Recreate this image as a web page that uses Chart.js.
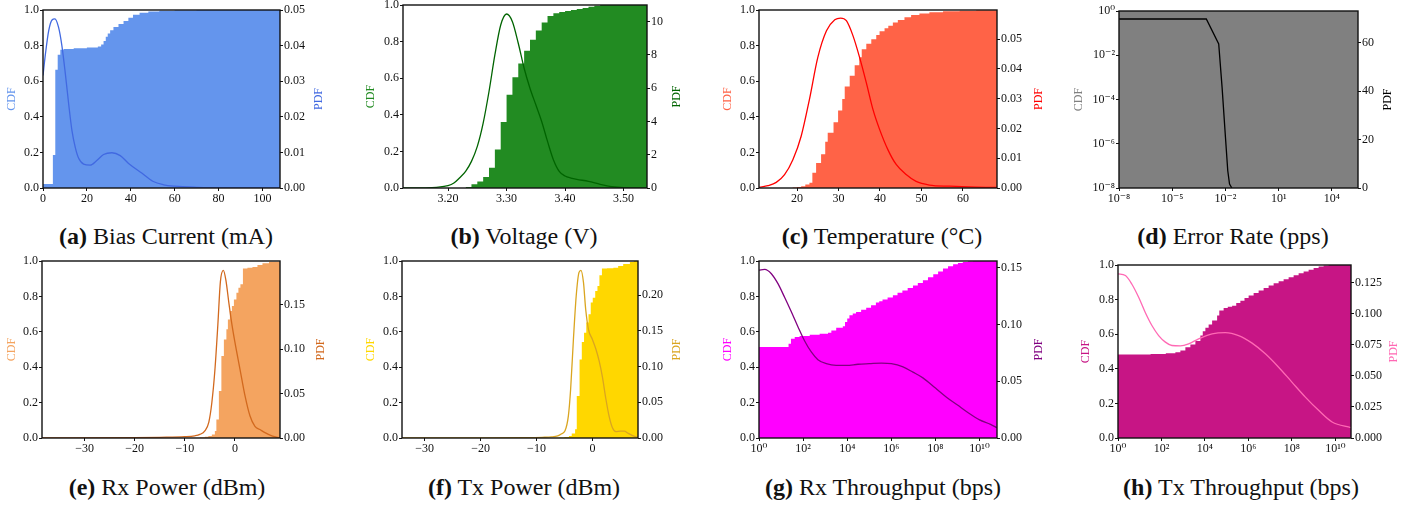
<!DOCTYPE html>
<html>
<head>
<meta charset="utf-8">
<script src="https://cdn.jsdelivr.net/npm/chart.js@4.4.0/dist/chart.umd.min.js"></script>
<style>
  html, body { margin: 0; padding: 0; background: #fff; }
  body { position: relative; width: 1422px; height: 508px; overflow: hidden; }
  canvas { position: absolute; }
  .cap {
    position: absolute; font-family: "Liberation Serif", "DejaVu Serif", serif;
    font-size: 24px; line-height: 1; color: #111; white-space: nowrap;
    transform: translate(-50%, -50%);
  }
</style>
</head>
<body>
<script>
// ---- shared tick labels ----
const cdfTicks = [0, 0.2, 0.4, 0.6, 0.8, 1.0]
const cdfLabels = ['0.0', '0.2', '0.4', '0.6', '0.8', '1.0']
const logCdfTicks = [1e-8, 1e-6, 1e-4, 1e-2, 1]
const logCdfLabels = ['10⁻⁸', '10⁻⁶', '10⁻⁴', '10⁻²', '10⁰']
const thrXTicks = [1, 1e2, 1e4, 1e6, 1e8, 1e10]
const thrXLabels = ['10⁰', '10²', '10⁴', '10⁶', '10⁸', '10¹⁰']
const powXTicks = [-30, -20, -10, 0]
const powXLabels = ['−30', '−20', '−10', '0']

// ---- (a) bias current ----
const biasCdfEdges = [0, 4.5, 5.6, 6.7, 7.9, 9.4, 14, 20, 25, 26.5, 27.6, 28.6, 29.5, 30.6, 32.1, 34.4, 36.7, 38.9, 41, 44, 48, 53, 60, 70, 108]
const biasCdf = [0.022, 0.185, 0.665, 0.749, 0.777, 0.781, 0.785, 0.789, 0.795, 0.806, 0.826, 0.85, 0.868, 0.886, 0.905, 0.922, 0.938, 0.956, 0.973, 0.985, 0.992, 0.996, 0.999, 1.0]
const biasPdfX = [0, 1.1, 2.6, 4.1, 5.4, 7.1, 8.6, 10.2, 11.7, 13.2, 14.7, 16.2, 18.5, 21.5, 24.5, 27.6, 31.4, 35.2, 39, 45, 50, 55, 60, 70, 80, 108]
const biasPdf = [0.0316, 0.0376, 0.0442, 0.0472, 0.0475, 0.0451, 0.0400, 0.0320, 0.0236, 0.0161, 0.0114, 0.0084, 0.0067, 0.0064, 0.0077, 0.0094, 0.0099, 0.0091, 0.0069, 0.0042, 0.0019, 0.0009, 0.0005, 0.0002, 0.0001, 0]
const biasXTicks = [0, 20, 40, 60, 80, 100]
const biasXLabels = ['0', '20', '40', '60', '80', '100']
const biasPdfTicks = [0, 0.01, 0.02, 0.03, 0.04, 0.05]
const biasPdfLabels = ['0.00', '0.01', '0.02', '0.03', '0.04', '0.05']

// ---- (b) voltage ----
const voltCdfEdges = [3.23, 3.24, 3.25, 3.26, 3.27, 3.28, 3.29, 3.30, 3.31, 3.32, 3.33, 3.34, 3.35, 3.36, 3.37, 3.38, 3.39, 3.40, 3.41, 3.42, 3.43, 3.44, 3.45, 3.46, 3.54]
const voltCdf = [0.006, 0.02, 0.035, 0.06, 0.11, 0.21, 0.36, 0.51, 0.605, 0.68, 0.75, 0.81, 0.86, 0.905, 0.94, 0.955, 0.962, 0.967, 0.972, 0.978, 0.983, 0.99, 0.996, 1.0]
const voltPdfX = [3.123, 3.16, 3.18, 3.20, 3.21, 3.22, 3.23, 3.24, 3.25, 3.26, 3.27, 3.28, 3.29, 3.30, 3.31, 3.32, 3.33, 3.34, 3.35, 3.36, 3.37, 3.38, 3.39, 3.40, 3.41, 3.42, 3.44, 3.46, 3.48, 3.50, 3.54]
const voltPdf = [0, 0.01, 0.04, 0.14, 0.3, 0.62, 1.0, 1.6, 2.5, 3.9, 5.8, 8.0, 9.8, 10.46, 10.0, 8.7, 7.2, 6.0, 5.0, 4.0, 2.8, 1.7, 1.0, 0.72, 0.6, 0.52, 0.40, 0.22, 0.08, 0.02, 0]
const voltXTicks = [3.2, 3.3, 3.4, 3.5]
const voltXLabels = ['3.20', '3.30', '3.40', '3.50']
const voltPdfTicks = [0, 2, 4, 6, 8, 10]
const voltPdfLabels = ['0', '2', '4', '6', '8', '10']

// ---- (c) temperature ----
const tempCdfEdges = [18.9, 20.0, 21.0, 22.0, 23.0, 23.7, 24.6, 25.8, 26.8, 27.4, 28.8, 29.9, 30.9, 31.5, 32.7, 33.9, 35.0, 35.6, 36.7, 37.9, 39.1, 39.9, 41.1, 42.0, 43.1, 44.3, 45.9, 47.5, 49.5, 51.9, 55.2, 59.2, 63.2, 68.2]
const tempCdf = [0.003, 0.006, 0.01, 0.02, 0.03, 0.085, 0.14, 0.19, 0.26, 0.31, 0.37, 0.435, 0.50, 0.57, 0.63, 0.69, 0.735, 0.78, 0.81, 0.835, 0.86, 0.88, 0.897, 0.912, 0.93, 0.944, 0.959, 0.972, 0.981, 0.987, 0.993, 0.996, 0.998]
const tempPdfX = [10.84, 13, 15, 17, 19, 21, 23, 25, 27.1, 29.1, 30.5, 31.9, 33.5, 35.1, 36.7, 38.3, 39.9, 41.9, 43.9, 46.3, 48.7, 51.9, 56.8, 63.2, 68.2]
const tempPdf = [0.0002, 0.0008, 0.0019, 0.0045, 0.0095, 0.0174, 0.0298, 0.0438, 0.0528, 0.0565, 0.0571, 0.0562, 0.0511, 0.0438, 0.0354, 0.0264, 0.0197, 0.0129, 0.0079, 0.0045, 0.0022, 0.0010, 0.0006, 0.0003, 0.0002]
const tempXTicks = [20, 30, 40, 50, 60]
const tempXLabels = ['20', '30', '40', '50', '60']
const tempPdfTicks = [0, 0.01, 0.02, 0.03, 0.04, 0.05]
const tempPdfLabels = ['0.00', '0.01', '0.02', '0.03', '0.04', '0.05']

// ---- (d) error rate (x as log10 exponents) ----
const errCdfExp = [-8, 5.47]
const errCdf = [1.0]
const errPdfExp = [-8, -3.08, -2.38, -2.19, -2.0, -1.87, -1.77, -1.64]
const errPdf = [69.7, 69.7, 59.4, 41.5, 20.9, 7.1, 1.6, 0]
const errXTicks = [1e-8, 1e-5, 1e-2, 1e1, 1e4]
const errXLabels = ['10⁻⁸', '10⁻⁵', '10⁻²', '10¹', '10⁴']
const errPdfTicks = [0, 20, 40, 60]
const errPdfLabels = ['0', '20', '40', '60']

// ---- (e) rx power ----
const rxpCdfEdges = [-10, -8, -7, -6, -5.3, -4.6, -4.0, -3.7, -3.2, -2.7, -2.2, -1.7, -1.4, -1.0, -0.6, -0.2, 0.3, 0.7, 1.1, 1.6, 2.5, 3.5, 4.5, 5.5, 6.8, 9.0]
const rxpCdf = [0.001, 0.002, 0.004, 0.007, 0.012, 0.02, 0.04, 0.105, 0.265, 0.463, 0.557, 0.614, 0.67, 0.717, 0.746, 0.783, 0.821, 0.849, 0.868, 0.957, 0.962, 0.966, 0.977, 0.987, 0.996]
const rxpPdfX = [-38.5, -20, -15, -10, -8, -7, -6, -5.2, -4.6, -4.0, -3.4, -2.9, -2.3, -1.8, -1.2, -0.6, 0, 1, 2, 3, 4, 5, 6, 7.5, 9]
const rxpPdf = [0, 0.0004, 0.0008, 0.0015, 0.0025, 0.004, 0.008, 0.018, 0.040, 0.076, 0.128, 0.176, 0.189, 0.178, 0.152, 0.128, 0.108, 0.078, 0.048, 0.025, 0.013, 0.0095, 0.006, 0.002, 0]
const rxpPdfTicks = [0, 0.05, 0.10, 0.15]
const rxpPdfLabels = ['0.00', '0.05', '0.10', '0.15']

// ---- (f) tx power ----
const txpCdfEdges = [-7, -6, -5, -4.2, -3.7, -3.1, -2.8, -2.3, -1.9, -1.5, -1.1, -0.7, -0.3, 0.06, 0.5, 0.9, 1.25, 1.7, 2.6, 3.75, 4.6, 5.5, 6.7, 7.4, 8.15]
const txpCdf = [0.001, 0.003, 0.006, 0.012, 0.025, 0.05, 0.237, 0.444, 0.542, 0.595, 0.652, 0.699, 0.765, 0.793, 0.831, 0.859, 0.919, 0.957, 0.959, 0.962, 0.972, 0.983, 0.994, 1.0]
const txpPdfX = [-34.05, -20, -12, -9, -7.3, -6.2, -5.5, -4.9, -4.3, -3.9, -3.4, -2.9, -2.4, -2.05, -1.6, -1.2, -0.7, 0, 0.6, 1.2, 1.8, 2.4, 3.0, 3.6, 4.2, 5.0, 5.7, 6.4, 7.3, 8.15]
const txpPdf = [0, 0.0002, 0.0006, 0.001, 0.0015, 0.003, 0.006, 0.010, 0.031, 0.068, 0.138, 0.199, 0.232, 0.235, 0.218, 0.180, 0.152, 0.138, 0.125, 0.108, 0.085, 0.055, 0.03, 0.014, 0.009, 0.0095, 0.0095, 0.0065, 0.003, 0.001]
const txpPdfTicks = [0, 0.05, 0.10, 0.15, 0.20]
const txpPdfLabels = ['0.00', '0.05', '0.10', '0.15', '0.20']

// ---- (g) rx throughput (x as log10 exponents) ----
const rxtCdfExp = [0, 1.34, 1.45, 1.62, 1.84, 2.3, 2.75, 3.13, 3.28, 3.5, 3.8, 3.9, 4.0, 4.1, 4.25, 4.4, 4.63, 4.86, 5.08, 5.3, 5.45, 5.6, 5.83, 6.07, 6.28, 6.5, 6.74, 6.98, 7.2, 7.43, 7.66, 7.9, 8.12, 8.34, 8.57, 8.8, 9.02, 9.24, 9.47, 9.7, 10.79]
const rxtCdf = [0.514, 0.533, 0.561, 0.571, 0.576, 0.584, 0.589, 0.595, 0.608, 0.623, 0.631, 0.655, 0.675, 0.693, 0.703, 0.712, 0.724, 0.736, 0.75, 0.765, 0.773, 0.782, 0.794, 0.806, 0.82, 0.834, 0.847, 0.861, 0.876, 0.891, 0.908, 0.925, 0.941, 0.957, 0.97, 0.981, 0.988, 0.994, 0.998, 1.0]
const rxtPdfExp = [0, 0.26, 0.56, 0.86, 1.16, 1.47, 1.77, 2.07, 2.37, 2.67, 3.05, 3.5, 3.96, 4.49, 5.0, 5.55, 6.0, 6.53, 6.98, 7.43, 8.0, 8.5, 9.0, 9.5, 10.0, 10.5, 10.79]
const rxtPdf = [0.148, 0.1486, 0.1448, 0.136, 0.124, 0.111, 0.0978, 0.0855, 0.0758, 0.069, 0.0655, 0.064, 0.064, 0.065, 0.0655, 0.066, 0.0655, 0.0626, 0.058, 0.053, 0.044, 0.036, 0.029, 0.022, 0.016, 0.012, 0.009]
const rxtPdfTicks = [0, 0.05, 0.10, 0.15]
const rxtPdfLabels = ['0.00', '0.05', '0.10', '0.15']

// ---- (h) tx throughput (x as log10 exponents) ----
const txtCdfExp = [0, 1.5, 2.2, 2.64, 2.87, 3.1, 3.33, 3.56, 3.79, 3.9, 4.02, 4.17, 4.33, 4.56, 4.66, 4.86, 5.05, 5.25, 5.44, 5.63, 5.82, 6.01, 6.24, 6.47, 6.7, 6.93, 7.16, 7.39, 7.62, 7.85, 8.08, 8.31, 8.54, 8.77, 9.0, 9.23, 9.46, 9.69, 10.72]
const txtCdf = [0.483, 0.486, 0.49, 0.496, 0.506, 0.525, 0.54, 0.56, 0.592, 0.617, 0.637, 0.656, 0.679, 0.708, 0.737, 0.752, 0.758, 0.765, 0.78, 0.794, 0.809, 0.823, 0.838, 0.852, 0.867, 0.881, 0.894, 0.906, 0.918, 0.929, 0.941, 0.952, 0.963, 0.973, 0.983, 0.992, 0.997, 1.0]
const txtPdfExp = [0, 0.34, 0.64, 0.95, 1.26, 1.56, 1.87, 2.18, 2.48, 2.87, 3.25, 3.71, 4.33, 4.94, 5.55, 6.17, 6.78, 7.39, 8.0, 8.62, 9.23, 9.85, 10.72]
const txtPdf = [0.1323, 0.131, 0.124, 0.1135, 0.101, 0.0907, 0.0826, 0.0773, 0.0746, 0.0743, 0.0759, 0.080, 0.084, 0.085, 0.0826, 0.0765, 0.0679, 0.0571, 0.0451, 0.033, 0.0223, 0.0129, 0.0083]
const txtPdfTicks = [0, 0.025, 0.05, 0.075, 0.1, 0.125]
const txtPdfLabels = ['0.000', '0.025', '0.050', '0.075', '0.100', '0.125']

const SERIF = '"Liberation Serif", "DejaVu Serif", serif'
Chart.defaults.font.family = SERIF
Chart.defaults.font.size = 12
Chart.defaults.color = '#111'

const TOP_PAD = 10
const X_AXIS_H = 22
const fromExp = arr => arr.map(e => Math.pow(10, e))

// histogram bins -> step points (last edge closes the final bin)
function steps(edges, vals) {
  const pts = vals.map((v, i) => ({ x: edges[i], y: v }))
  pts.push({ x: edges[edges.length - 1], y: vals[vals.length - 1] })
  return pts
}
function curve(xs, ys) {
  return xs.map((x, i) => ({ x: x, y: ys[i] }))
}

// box outline + both axis titles (matplotlib keeps both reading bottom-to-top)
const frame = {
  id: 'frame',
  afterDatasetsDraw(chart, args, opts) {
    const { ctx, chartArea: a } = chart
    ctx.save()
    ctx.strokeStyle = '#111'
    ctx.lineWidth = 1.4
    ctx.strokeRect(a.left, a.top, a.right - a.left, a.bottom - a.top)
    ctx.font = '12px ' + SERIF
    ctx.textAlign = 'center'
    ctx.textBaseline = 'middle'
    const midY = (a.top + a.bottom) / 2
    ;[[10.6, opts.cdfColor, 'CDF'], [chart.width - 10.6, opts.pdfColor, 'PDF']].forEach(t => {
      ctx.save()
      ctx.translate(t[0], midY)
      ctx.rotate(-Math.PI / 2)
      ctx.fillStyle = t[1]
      ctx.fillText(t[2], 0, 0)
      ctx.restore()
    })
    ctx.restore()
  }
}

function axis(extra, ticks, labels, fit) {
  return Object.assign({
    afterBuildTicks: s => { s.ticks = ticks.map(v => ({ value: v })) },
    afterFit: fit,
    ticks: { callback: (v, i) => labels[i], autoSkip: false, maxRotation: 0, padding: 1 },
    grid: { drawOnChartArea: false, tickLength: 3, color: '#111', lineWidth: 1 },
    border: { display: false }
  }, extra)
}

const panels = [
  { box: [43, 10, 280, 188], lw: 42, rw: 49, cdfColor: '#6495ED', pdfColor: '#4169E1',
    cdf: steps(biasCdfEdges, biasCdf), pdf: curve(biasPdfX, biasPdf),
    x: { type: 'linear', min: 0, max: 108 }, xTicks: biasXTicks, xLabels: biasXLabels,
    y2Max: 0.05, y2Ticks: biasPdfTicks, y2Labels: biasPdfLabels,
    cap: '<b>(a)</b> Bias Current (mA)', capX: 166, capY: 236 },
  { box: [403, 5, 647, 188], lw: 43, rw: 40, cdfColor: '#228B22', pdfColor: '#006400',
    cdf: steps(voltCdfEdges, voltCdf), pdf: curve(voltPdfX, voltPdf),
    x: { type: 'linear', min: 3.123, max: 3.54 }, xTicks: voltXTicks, xLabels: voltXLabels,
    y2Max: 11, y2Ticks: voltPdfTicks, y2Labels: voltPdfLabels,
    cap: '<b>(b)</b> Voltage (V)', capX: 524, capY: 236 },
  { box: [759, 10, 997, 188], lw: 42, rw: 52, cdfColor: '#FF6347', pdfColor: '#FF0000',
    cdf: steps(tempCdfEdges, tempCdf), pdf: curve(tempPdfX, tempPdf),
    x: { type: 'linear', min: 10.84, max: 68.2 }, xTicks: tempXTicks, xLabels: tempXLabels,
    y2Max: 0.0598, y2Ticks: tempPdfTicks, y2Labels: tempPdfLabels,
    cap: '<b>(c)</b> Temperature (°C)', capX: 882, capY: 236 },
  { box: [1119, 11, 1358, 188], lw: 51, rw: 40, cdfColor: '#808080', pdfColor: '#000000',
    cdf: steps(fromExp(errCdfExp), errCdf), pdf: curve(fromExp(errPdfExp), errPdf), straight: true,
    x: { type: 'logarithmic', min: 1e-8, max: Math.pow(10, 5.47) }, xTicks: errXTicks, xLabels: errXLabels,
    y: { type: 'logarithmic', min: 1e-8, max: 1 }, yTicks: logCdfTicks, yLabels: logCdfLabels,
    y2Max: 73, y2Ticks: errPdfTicks, y2Labels: errPdfLabels,
    cap: '<b>(d)</b> Error Rate (pps)', capX: 1233, capY: 236 },
  { box: [42, 261, 280, 438], lw: 41, rw: 51, cdfColor: '#F4A460', pdfColor: '#D2691E',
    cdf: steps(rxpCdfEdges, rxpCdf), pdf: curve(rxpPdfX, rxpPdf),
    x: { type: 'linear', min: -38.5, max: 9.0 }, xTicks: powXTicks, xLabels: powXLabels,
    y2Max: 0.1995, y2Ticks: rxpPdfTicks, y2Labels: rxpPdfLabels,
    cap: '<b>(e)</b> Rx Power (dBm)', capX: 167, capY: 487 },
  { box: [402, 261, 638, 438], lw: 42, rw: 49, cdfColor: '#FFD700', pdfColor: '#DAA520',
    cdf: steps(txpCdfEdges, txpCdf), pdf: curve(txpPdfX, txpPdf),
    x: { type: 'linear', min: -34.05, max: 8.15 }, xTicks: powXTicks, xLabels: powXLabels,
    y2Max: 0.248, y2Ticks: txpPdfTicks, y2Labels: txpPdfLabels,
    cap: '<b>(f)</b> Tx Power (dBm)', capX: 524, capY: 487 },
  { box: [759, 261, 997, 438], lw: 42, rw: 52, cdfColor: '#FF00FF', pdfColor: '#800080',
    cdf: steps(fromExp(rxtCdfExp), rxtCdf), pdf: curve(fromExp(rxtPdfExp), rxtPdf),
    x: { type: 'logarithmic', min: 1, max: Math.pow(10, 10.79) }, xTicks: thrXTicks, xLabels: thrXLabels,
    y2Max: 0.156, y2Ticks: rxtPdfTicks, y2Labels: rxtPdfLabels,
    cap: '<b>(g)</b> Rx Throughput (bps)', capX: 883, capY: 487 },
  { box: [1118, 265, 1351, 438], lw: 43, rw: 53, cdfColor: '#C71585', pdfColor: '#FF69B4',
    cdf: steps(fromExp(txtCdfExp), txtCdf), pdf: curve(fromExp(txtPdfExp), txtPdf),
    x: { type: 'logarithmic', min: 1, max: Math.pow(10, 10.72) }, xTicks: thrXTicks, xLabels: thrXLabels,
    y2Max: 0.1395, y2Ticks: txtPdfTicks, y2Labels: txtPdfLabels,
    cap: '<b>(h)</b> Tx Throughput (bps)', capX: 1241, capY: 487 }
]

panels.forEach(p => {
  const [l, t, r, b] = p.box
  const w = (r - l) + p.lw + p.rw
  const h = (b - t) + TOP_PAD + X_AXIS_H
  const cv = document.createElement('canvas')
  cv.width = w
  cv.height = h
  cv.style.left = (l - p.lw) + 'px'
  cv.style.top = (t - TOP_PAD) + 'px'
  cv.style.width = w + 'px'
  cv.style.height = h + 'px'
  document.body.appendChild(cv)

  const cap = document.createElement('div')
  cap.className = 'cap'
  cap.innerHTML = p.cap
  cap.style.left = p.capX + 'px'
  cap.style.top = p.capY + 'px'
  document.body.appendChild(cap)

  new Chart(cv, {
    type: 'line',
    data: {
      datasets: [
        { label: 'PDF', data: p.pdf, yAxisID: 'y2', order: 0,
          borderColor: p.pdfColor, borderWidth: 1.3, pointRadius: 0, fill: false,
          cubicInterpolationMode: p.straight ? 'default' : 'monotone', tension: 0 },
        // 'before': hold each bin's value until the next edge
        { label: 'CDF', data: p.cdf, yAxisID: 'y', order: 1,
          stepped: 'before', fill: 'start', backgroundColor: p.cdfColor,
          borderColor: 'rgba(0,0,0,0)', borderWidth: 0, pointRadius: 0 }
      ]
    },
    options: {
      responsive: false,
      animation: false,
      events: [],
      layout: { padding: { top: TOP_PAD, left: 0, right: 0, bottom: 0 } },
      plugins: { legend: { display: false }, tooltip: { enabled: false },
        frame: { cdfColor: p.cdfColor, pdfColor: p.pdfColor } },
      scales: {
        x: axis(Object.assign({ position: 'bottom' }, p.x), p.xTicks, p.xLabels,
          s => { s.height = X_AXIS_H }),
        y: axis(Object.assign({ position: 'left' }, p.y || { type: 'linear', min: 0, max: 1 }),
          p.yTicks || cdfTicks, p.yLabels || cdfLabels, s => { s.width = p.lw }),
        y2: axis({ type: 'linear', position: 'right', min: 0, max: p.y2Max },
          p.y2Ticks, p.y2Labels, s => { s.width = p.rw })
      }
    },
    plugins: [frame]
  })
})
</script>
</body>
</html>
